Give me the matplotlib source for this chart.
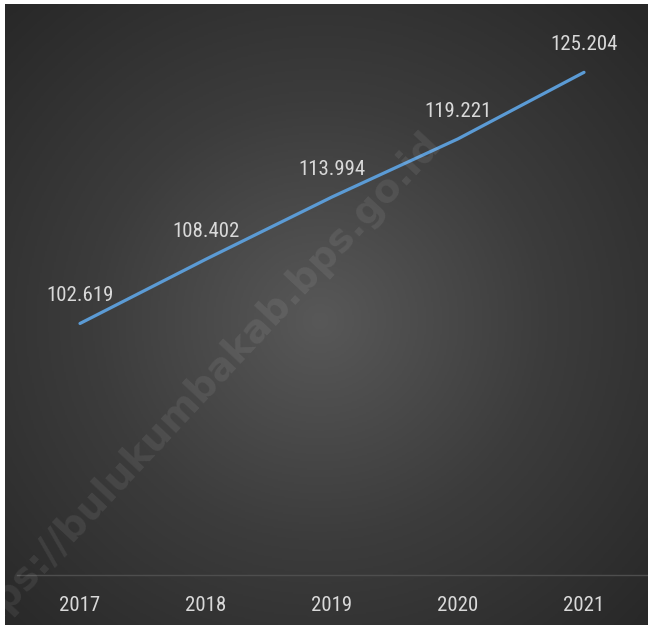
import numpy as np
import matplotlib.pyplot as plt
from matplotlib.colors import LinearSegmentedColormap

years = ['2017', '2018', '2019', '2020', '2021']
values = [102.619, 108.402, 113.994, 119.221, 125.204]
labels = ['102.619', '108.402', '113.994', '119.221', '125.204']

plt.rcParams['font.family'] = ['Roboto Condensed', 'Open Sans Condensed',
                               'Liberation Sans Narrow', 'DejaVu Sans']
plt.rcParams['font.stretch'] = 'condensed'

fig = plt.figure(figsize=(6.48, 6.25), dpi=100, facecolor='white')

# radial gradient background
bg = fig.add_axes([5/648, 0, 643/648, 621/625])
gx, gy = np.meshgrid(np.linspace(-1, 1, 400), np.linspace(-1, 1, 400))
r = np.sqrt((gx + 0.02)**2 + (gy - 0.02)**2) / np.sqrt(2)
cmap = LinearSegmentedColormap.from_list('bg', ['#585858', '#3c3c3c', '#282828'])
bg.imshow(r, cmap=cmap, aspect='auto', extent=[0, 1, 0, 1], vmin=0, vmax=1)
bg.axis('off')

ax = fig.add_axes([17/648, 50/625, 630/648, 556/625])
ax.patch.set_visible(False)
x = np.arange(len(years))
ax.plot(x, values, color='#5b9bd5', lw=2.3, solid_capstyle='round')
for xi, v, t in zip(x, values, labels):
    ax.annotate(t, (xi, v), xytext=(0, 20), textcoords='offset points',
                ha='center', va='center', color='#d9d9d9', fontsize=15)

ax.set_xlim(-0.5, 4.5)
ax.set_ylim(80, 130)
ax.set_xticks(x)
ax.set_xticklabels(years)
ax.set_yticks([])
ax.tick_params(axis='x', length=0, pad=15, labelcolor='#d9d9d9', labelsize=15)
for s in ['top', 'right', 'left']:
    ax.spines[s].set_visible(False)
ax.spines['bottom'].set_color('#4e4e4e')
ax.spines['bottom'].set_linewidth(1)

# watermark
fig.text(0.30, 0.37, 'https://bulukumbakab.bps.go.id', rotation=47,
         ha='center', va='center', fontsize=28, fontweight='bold',
         family='DejaVu Sans', stretch='normal', color='white', alpha=0.08)

fig.savefig('out.png', dpi=100, facecolor='white')
